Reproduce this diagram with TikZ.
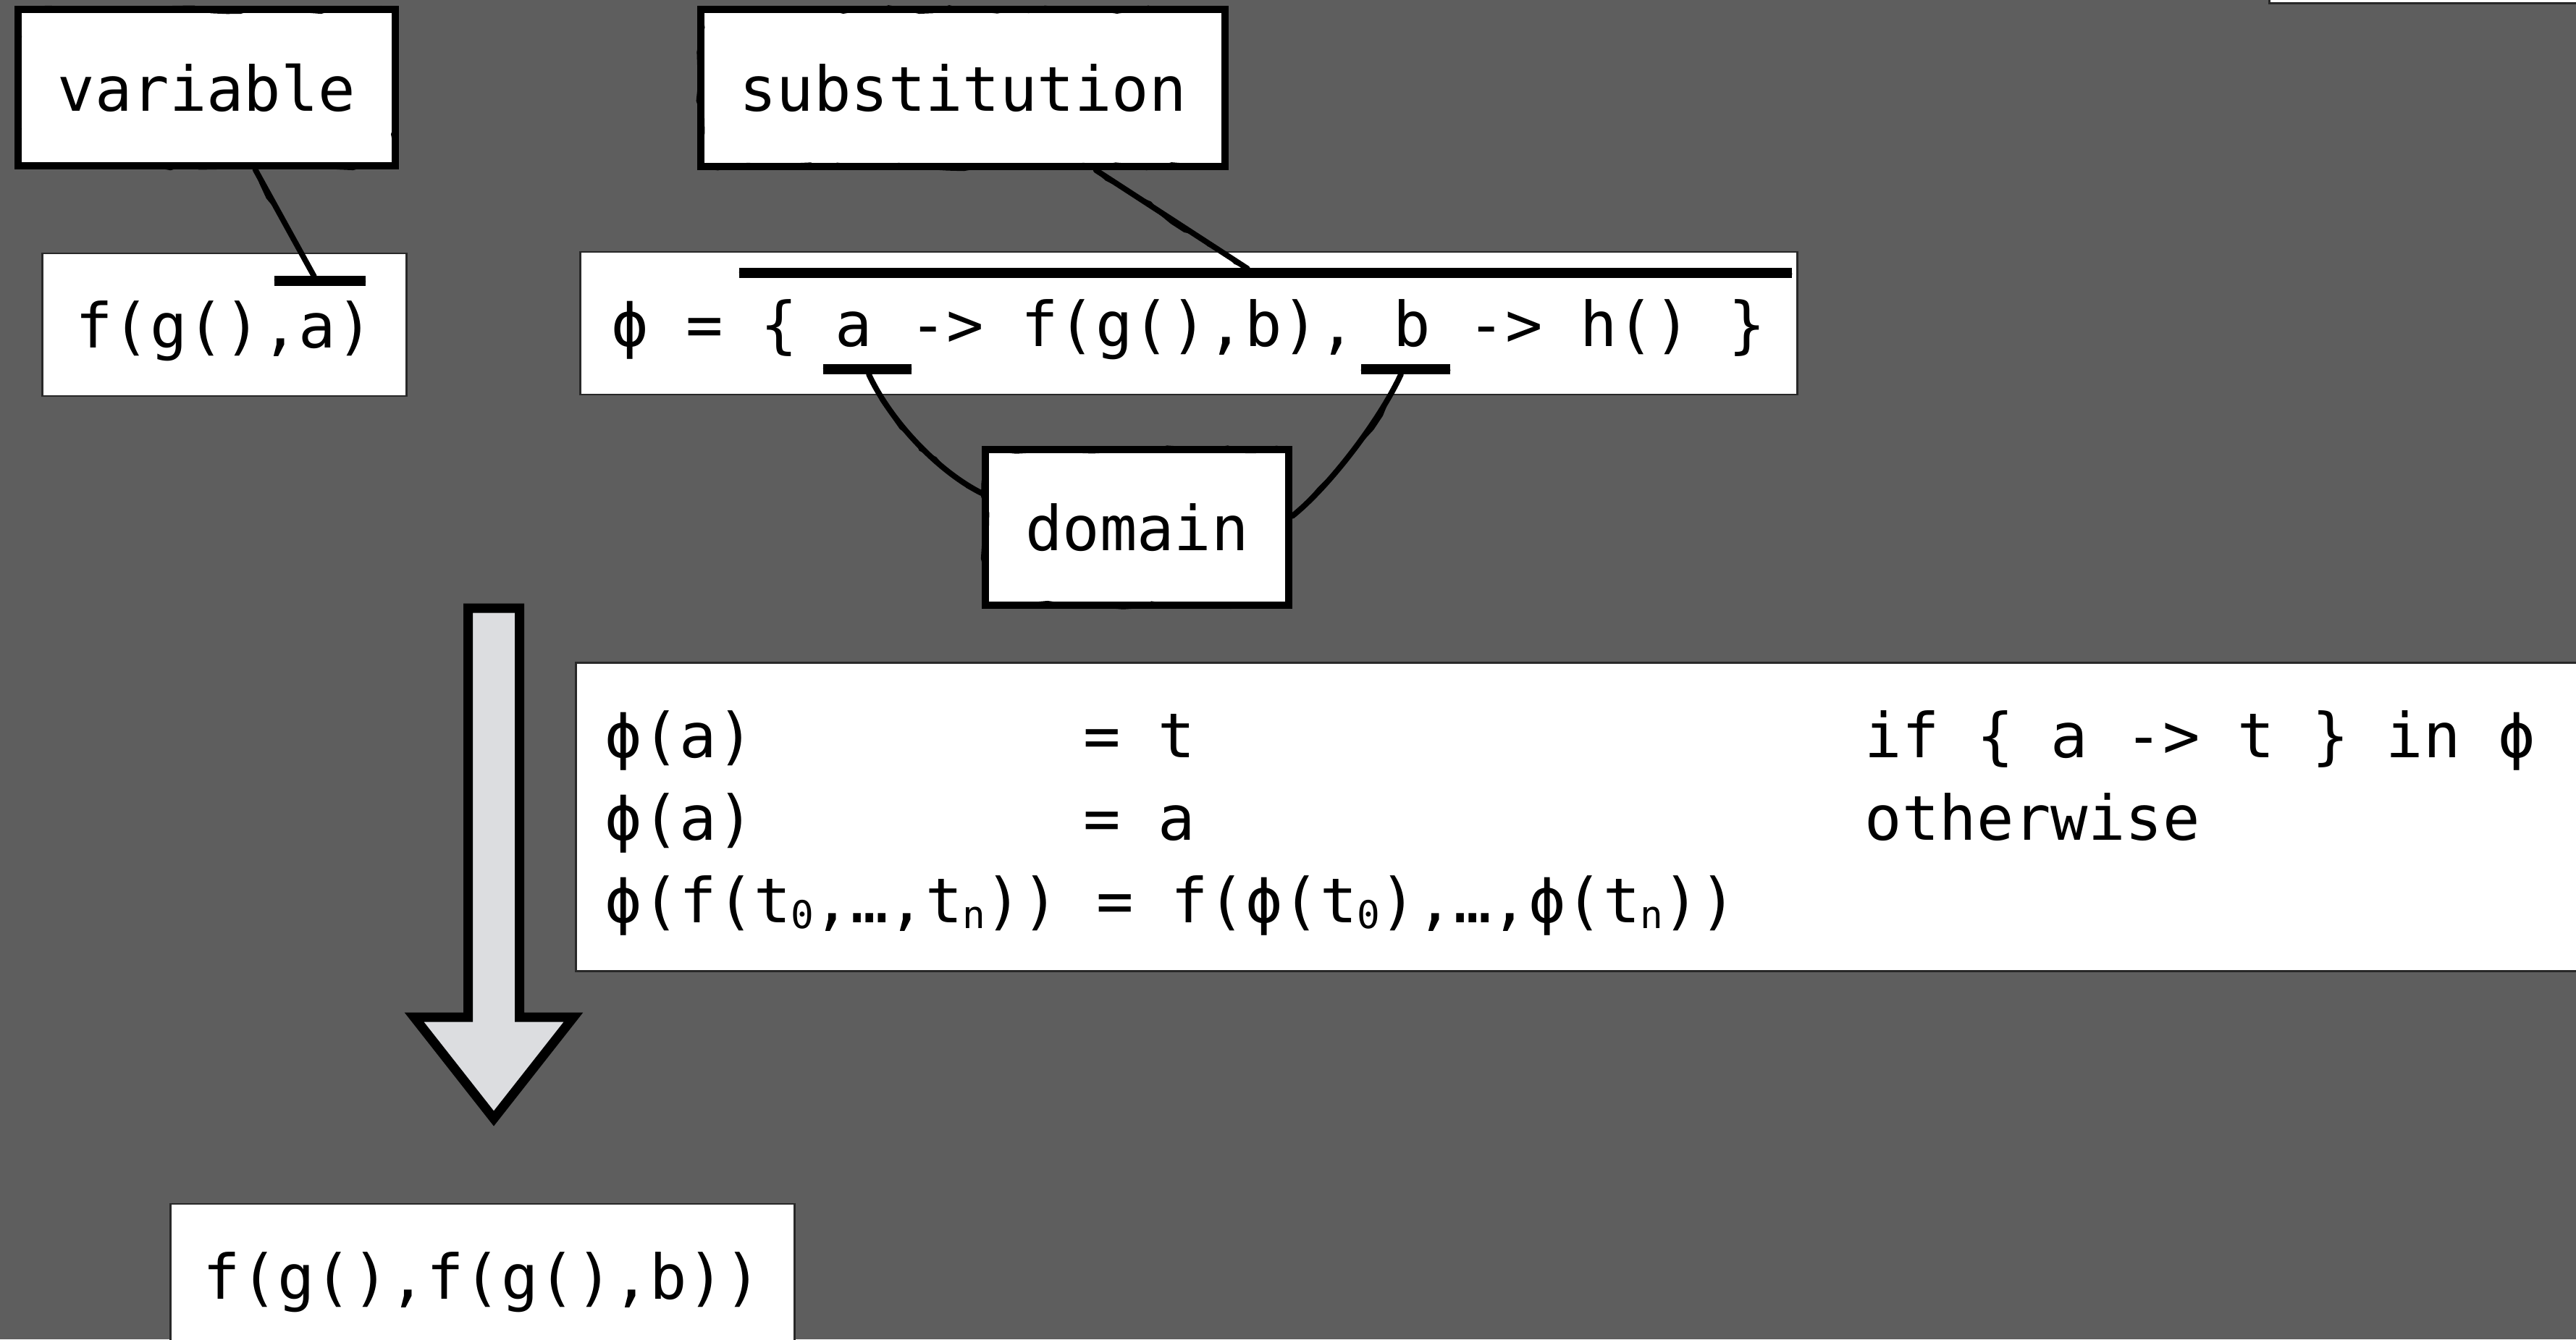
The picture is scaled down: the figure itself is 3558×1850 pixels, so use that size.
\documentclass[tikz,border=0pt]{standalone}
\usepackage{fontspec}
\newfontfamily\mono{DejaVu Sans Mono}
\usetikzlibrary{decorations.pathmorphing,calc}

\definecolor{bg}{RGB}{94,94,94}
\definecolor{arrowfill}{RGB}{220,221,224}
\definecolor{frame}{RGB}{40,40,40}

% narrow lowered index digit/letter
\newcommand\idx[1]{\makebox[0.36em][l]{\raisebox{-0.1em}{\fontsize{15pt}{15pt}\selectfont #1}}}

\tikzset{
  rough/.style={postaction={draw=black, line width=#1, decorate,
      decoration={random steps, segment length=6pt, amplitude=1.3pt}}},
  rough/.default=1pt,
  tag/.style={draw=black, fill=white, line width=2.8pt, inner sep=0pt,
      text height=0.64cm, text depth=0pt, rough},
  term box/.style={draw=frame, fill=white, line width=0.8pt, inner sep=0pt,
      text height=0.64cm, text depth=0pt},
  bar/.style={draw=black, line width=4pt, line cap=butt, rough=1.2pt},
  stroke/.style={draw=black, line width=2.2pt, line cap=round, rough=0.8pt},
  code/.style={anchor=base west, inner sep=0pt},
  every node/.style={font=\mono\fontsize{24.3pt}{29pt}\selectfont},
}

\begin{document}
\begin{tikzpicture}[x=0.01cm, y=-0.01cm]
  \useasboundingbox (0,0) rectangle (3558,1850);
  \fill[bg] (0,0) rectangle (3558,1850);
  \clip (0,0) rectangle (3558,1850);

  % terms
  \node[term box, minimum width=5.02cm, minimum height=1.97cm] (term) at (310,448.5) {f(g(),a)};
  \node[term box, minimum width=16.8cm, minimum height=1.97cm] (phi) at (1642,446.5)
    {ϕ = \{ a -> f(g(),b), b -> h() \}};
  \node[term box, minimum width=8.61cm, minimum height=1.98cm] (result) at (666.5,1762)
    {f(g(),f(g(),b))};
  \node[term box, anchor=south west, minimum width=5cm, minimum height=1cm] (corner) at (3133,6) {};

  % rules of application
  \node[term box, anchor=north west, minimum width=28cm, minimum height=4.26cm] (rules) at (794,914) {};
  \node[code] (r1a) at (835,1046) {ϕ(a)};
  \node[code] (r1b) at (1496,1046) {= t};
  \node[code] (r1c) at (2575,1046) {if \{ a -> t \} in ϕ};
  \node[code] (r2a) at (835,1160) {ϕ(a)};
  \node[code] (r2b) at (1496,1160) {= a};
  \node[code] (r2c) at (2575,1160) {otherwise};
  \node[code] (r3a) at (835,1274)
    {ϕ(f(t\idx{0},…,t\idx{n})) = f(ϕ(t\idx{0}),…,ϕ(t\idx{n}))};

  % labels
  \node[tag, minimum width=5.21cm, minimum height=2.16cm] (variable) at (285.5,121) {variable};
  \node[tag, minimum width=7.24cm, minimum height=2.17cm] (subst) at (1330,121.5) {substitution};
  \node[tag, minimum width=4.19cm, minimum height=2.15cm] (domain) at (1570.5,728.5) {domain};

  % marks on the terms
  \coordinate (va-l) at (379,388);  \coordinate (va-r) at (505,388);
  \coordinate (ov-l) at (1021,377); \coordinate (ov-r) at (2475,377);
  \coordinate (ua-l) at (1137,510); \coordinate (ua-r) at (1259,510);
  \coordinate (ub-l) at (1880,510); \coordinate (ub-r) at (2003,510);
  \draw[bar] (va-l) -- (va-r);
  \draw[bar] (ov-l) -- (ov-r);
  \draw[bar] (ua-l) -- (ua-r);
  \draw[bar] (ub-l) -- (ub-r);

  \coordinate (va-mark) at (434,382);
  \coordinate (ov-mark) at (1723,371);
  \coordinate (ua-mark) at (1200,517);
  \coordinate (ub-mark) at (1935,517);

  % connectors
  \draw[stroke] ($(variable.south west)!0.626!(variable.south east)$) -- (va-mark);
  \draw[stroke] ($(subst.south west)!0.75!(subst.south east)$) -- (ov-mark);
  \draw[stroke] (ua-mark) .. controls +(30,65) and +(-60,-30) ..
        ($(domain.north west)!0.29!(domain.south west)$);
  \draw[stroke] (ub-mark) .. controls +(-30,65) and +(50,-40) ..
        ($(domain.north east)!0.43!(domain.south east)$);

  % big downward arrow
  \draw[line width=0.13cm, fill=arrowfill, line join=miter, miter limit=10]
    (646.5,840) -- (717.5,840) -- (717.5,1405) -- (792,1405) -- (682,1545)
    -- (572,1405) -- (646.5,1405) -- cycle;
\end{tikzpicture}
\end{document}
